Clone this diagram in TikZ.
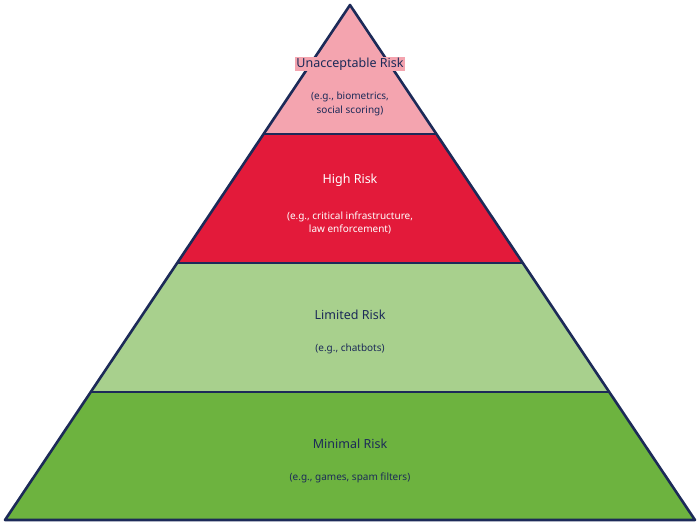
\documentclass[tikz,border=0pt]{standalone}
\usepackage{fontspec}
\setmainfont{Noto Sans}
\begin{document}
\begin{tikzpicture}[x=1pt,y=-1pt,line join=round]
\definecolor{navy}{HTML}{1C2A58}
\definecolor{pinkc}{HTML}{F4A4AF}
\definecolor{redc}{HTML}{E31A3A}
\definecolor{lgreen}{HTML}{A8D08D}
\definecolor{dgreen}{HTML}{6DB33F}
\tikzset{ttl/.style={font=\bfseries\fontsize{12.5}{15}\selectfont,text=navy,inner sep=1pt},
 sub/.style={font=\fontsize{10}{13.5}\selectfont,text=navy,align=center,inner sep=1pt},
 edge/.style={draw=navy,line width=2.6pt}}
\useasboundingbox (0,0) rectangle (700,528);
\coordinate (A) at (350,5);
\coordinate (L1) at (263.6,134); \coordinate (R1) at (436.4,134);
\coordinate (L2) at (177.2,263); \coordinate (R2) at (522.8,263);
\coordinate (L3) at (90.7,392); \coordinate (R3) at (609.3,392);
\coordinate (L4) at (5,520); \coordinate (R4) at (695,520);
\fill[pinkc] (A)--(R1)--(L1)--cycle;
\fill[redc] (L1)--(R1)--(R2)--(L2)--cycle;
\fill[lgreen] (L2)--(R2)--(R3)--(L3)--cycle;
\fill[dgreen] (L3)--(R3)--(R4)--(L4)--cycle;
\draw[edge] (A)--(L4)--(R4)--cycle;
\draw[edge] (L1)--(R1) (L2)--(R2) (L3)--(R3);
\node[ttl,fill=pinkc] (t1) at (350,64) {Unacceptable Risk};
\node[sub,fill=pinkc] (s1) at (350,104) {(e.g., biometrics,\\social scoring)};
\node[ttl,text=white] (t2) at (350,180) {High Risk};
\node[sub,text=white] (s2) at (350,223) {(e.g., critical infrastructure,\\law enforcement)};
\node[ttl] (t3) at (350,315) {Limited Risk};
\node[sub] (s3) at (350,349) {(e.g., chatbots)};
\node[ttl] (t4) at (350,444) {Minimal Risk};
\node[sub] (s4) at (350,478) {(e.g., games, spam filters)};
\end{tikzpicture}
\end{document}
